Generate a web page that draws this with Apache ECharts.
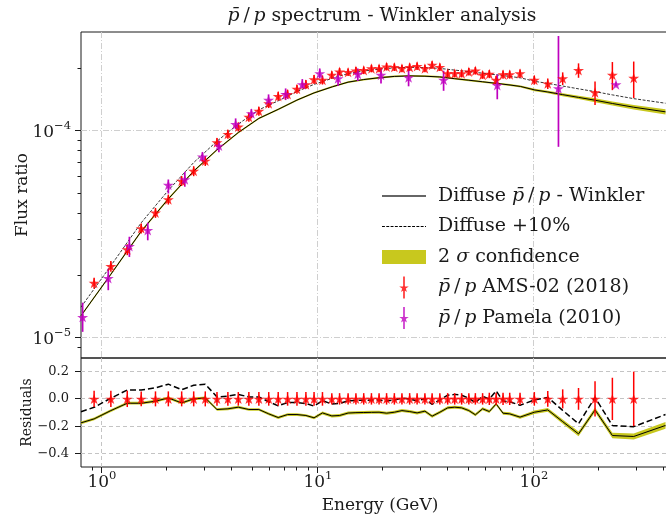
<!DOCTYPE html>
<html><head><meta charset="utf-8">
<script src="https://cdn.jsdelivr.net/npm/echarts@6/dist/echarts.min.js"></script>
<style>html,body{margin:0;padding:0;background:#fff}#c{width:666px;height:521px}</style>
</head><body><div id="c"></div>
<script>
// ---------- data ----------
// AMS-02 (2018) pbar/p points
const amsE = [0.92,1.10,1.31,1.52,1.77,2.03,2.34,2.66,3.01,3.41,3.83,4.28,4.79,5.33,5.92,6.55,7.24,8.0,8.8,9.6,10.5,11.6,12.6,13.8,15.0,16.3,17.7,19.2,20.8,22.6,24.5,26.6,28.8,31.3,33.8,36.7,39.9,43.0,46.3,50.0,53.6,57.9,62.2,66.9,72.0,77.3,86.3,100.5,116,136,161,192,231,290];
const amsFlux = [1.84e-5,2.22e-5,2.67e-5,3.38e-5,4.02e-5,4.66e-5,5.73e-5,6.39e-5,7.16e-5,8.79e-5,9.64e-5,1.045e-4,1.165e-4,1.245e-4,1.356e-4,1.47e-4,1.503e-4,1.59e-4,1.675e-4,1.77e-4,1.76e-4,1.86e-4,1.93e-4,1.92e-4,1.95e-4,1.96e-4,2.0e-4,2.0e-4,2.04e-4,2.03e-4,2.0e-4,2.03e-4,2.05e-4,2.0e-4,2.08e-4,2.03e-4,1.89e-4,1.89e-4,1.89e-4,1.93e-4,1.95e-4,1.86e-4,1.88e-4,1.76e-4,1.87e-4,1.87e-4,1.89e-4,1.76e-4,1.69e-4,1.79e-4,1.96e-4,1.53e-4,1.86e-4,1.80e-4];
// relative uncertainty (as drawn in the residual panel)
const amsRelErr = [0.06,0.06,0.06,0.055,0.055,0.055,0.055,0.055,0.055,0.05,0.05,0.05,0.05,0.05,0.05,0.05,0.05,0.05,0.05,0.05,0.05,0.042,0.042,0.042,0.042,0.042,0.042,0.042,0.042,0.042,0.042,0.042,0.042,0.042,0.042,0.042,0.042,0.042,0.042,0.042,0.042,0.042,0.045,0.045,0.045,0.045,0.045,0.05,0.058,0.07,0.08,0.13,0.155,0.20];

// Pamela (2010) pbar/p points
const pamE = [0.814,1.07,1.34,1.63,2.03,2.42,2.92,3.48,4.16,4.92,5.91,7.09,8.47,10.2,12.4,15.3,19.6,26.3,38.2,67.7,130,240];
const pamFlux = [1.26e-5,1.94e-5,2.77e-5,3.31e-5,5.47e-5,5.82e-5,7.49e-5,8.46e-5,1.077e-4,1.213e-4,1.41e-4,1.50e-4,1.675e-4,1.89e-4,1.79e-4,1.88e-4,1.86e-4,1.81e-4,1.76e-4,1.66e-4,1.60e-4,1.675e-4];
const pamLow = [1.07e-5,1.70e-5,2.46e-5,2.96e-5,4.98e-5,5.37e-5,7.08e-5,7.89e-5,1.019e-4,1.148e-4,1.32e-4,1.407e-4,1.602e-4,1.79e-4,1.65e-4,1.74e-4,1.69e-4,1.64e-4,1.56e-4,1.42e-4,0.837e-4,1.64e-4];
const pamHigh = [1.48e-5,2.16e-5,3.08e-5,3.60e-5,5.82e-5,6.34e-5,7.89e-5,8.97e-5,1.148e-4,1.273e-4,1.499e-4,1.602e-4,1.777e-4,2.0e-4,1.93e-4,2.0e-4,2.0e-4,2.0e-4,1.95e-4,1.87e-4,2.87e-4,1.71e-4];

// Diffuse model (Winkler), +10% curve and 2 sigma band half-width (relative)
const modelE = [0.8,1.1,1.52,2.03,2.66,3.41,4.28,5.33,6.55,8.0,9.6,11.7,13.8,16.3,19.2,22.6,26.6,31.3,36.7,43.0,50.0,57.9,66.9,77.6,86.9,101,116,136,161,192,231,290,407];
const modelFlux = [1.28e-5,2.03e-5,3.27e-5,4.69e-5,6.39e-5,8.10e-5,9.81e-5,1.148e-4,1.269e-4,1.407e-4,1.524e-4,1.633e-4,1.718e-4,1.768e-4,1.804e-4,1.831e-4,1.841e-4,1.835e-4,1.82e-4,1.785e-4,1.755e-4,1.725e-4,1.695e-4,1.664e-4,1.637e-4,1.575e-4,1.54e-4,1.495e-4,1.45e-4,1.405e-4,1.355e-4,1.30e-4,1.235e-4];
const modelPlus10 = [1.408e-5,2.233e-5,3.597e-5,5.159e-5,7.029e-5,8.91e-5,1.079e-4,1.263e-4,1.396e-4,1.548e-4,1.676e-4,1.796e-4,1.890e-4,1.945e-4,1.984e-4,2.014e-4,2.025e-4,2.019e-4,2.002e-4,1.964e-4,1.931e-4,1.898e-4,1.865e-4,1.830e-4,1.801e-4,1.733e-4,1.694e-4,1.645e-4,1.595e-4,1.546e-4,1.491e-4,1.430e-4,1.359e-4];
const modelBandRel = [0.012,0.012,0.012,0.012,0.01,0.01,0.01,0.01,0.01,0.01,0.01,0.01,0.01,0.01,0.01,0.01,0.01,0.01,0.01,0.01,0.01,0.01,0.01,0.01,0.01,0.014,0.015,0.017,0.019,0.021,0.023,0.025,0.028];

// Residual panel
const resE = [0.8,0.92,1.10,1.31,1.52,1.77,2.03,2.34,2.66,3.01,3.41,3.83,4.28,4.79,5.33,5.92,6.55,7.24,8.0,8.8,9.6,10.5,11.6,12.6,13.8,15.0,16.3,17.7,19.2,20.8,22.6,24.5,26.6,28.8,31.3,33.8,36.7,39.9,43.0,46.3,50.0,53.6,57.9,62.2,66.9,72.0,77.3,86.3,100.5,116,136,161,192,231,290,407];
const resModel = [-0.176,-0.147,-0.086,-0.032,-0.032,-0.017,0.007,-0.030,0.0,0.007,-0.078,-0.073,-0.061,-0.078,-0.078,-0.110,-0.137,-0.115,-0.115,-0.122,-0.139,-0.103,-0.125,-0.122,-0.104,-0.101,-0.100,-0.099,-0.098,-0.105,-0.098,-0.086,-0.093,-0.103,-0.090,-0.127,-0.098,-0.066,-0.061,-0.066,-0.086,-0.117,-0.073,-0.093,-0.037,-0.105,-0.110,-0.134,-0.098,-0.081,-0.167,-0.257,-0.081,-0.269,-0.276,-0.195];
const resPlus10 = [-0.094,-0.062,0.005,0.065,0.065,0.081,0.108,0.067,0.100,0.108,0.014,0.020,0.033,0.014,0.014,-0.021,-0.051,-0.027,-0.027,-0.034,-0.053,-0.013,-0.038,-0.034,-0.014,-0.011,-0.010,-0.009,-0.008,-0.016,-0.008,0.005,-0.002,-0.013,0.001,-0.040,-0.008,0.027,0.033,0.027,0.005,-0.029,0.020,-0.002,0.059,-0.016,-0.021,-0.047,-0.008,0.011,-0.084,-0.183,0.011,-0.196,-0.204,-0.115];
const resBand = [0.010,0.010,0.010,0.010,0.010,0.010,0.010,0.010,0.010,0.010,0.010,0.010,0.010,0.010,0.010,0.010,0.010,0.010,0.010,0.010,0.010,0.011,0.011,0.011,0.011,0.011,0.011,0.011,0.011,0.011,0.011,0.011,0.011,0.011,0.011,0.011,0.011,0.011,0.011,0.011,0.011,0.011,0.011,0.011,0.011,0.011,0.011,0.011,0.013,0.014,0.015,0.017,0.018,0.020,0.022,0.025];

// Tick positions
const xMajorTicks = [1, 10, 100];
const xMinorTicks = [0.9,2,3,4,5,6,7,8,9,20,30,40,50,60,70,80,90,200,300,400];
const yTopMajorTicks = [1e-5, 1e-4];
const yTopMinorTicks = [9e-6,2e-5,3e-5,4e-5,5e-5,6e-5,7e-5,8e-5,9e-5,2e-4];
const yResTicks = [-0.4,-0.2,0.0,0.2];

// ---------- style ----------
const FONT = '"DejaVu Serif","Liberation Serif",serif';
const RED = '#ff0000', MAG = '#bf00bf', BAND = '#c8c81e', INK = '#1a1a1a';
const GRID_TOP = '#cfcfcf', GRID_RES = '#c4c4c4';
const STAR = 'path://M10 0L12.245 6.91L19.511 6.91L13.633 11.18L15.878 18.09L10 13.82L4.122 18.09L6.367 11.18L0.489 6.91L7.755 6.91Z';
const STAR_BAR = 'path://M8.3 0H11.7V44H8.3Z M10 13L12.245 19.91L19.511 19.91L13.633 24.18L15.878 31.09L10 26.82L4.122 31.09L6.367 24.18L0.489 19.91L7.755 19.91Z';
const RECT = 'path://M0 0H44V14H0Z';
const SOLID_ICON = 'path://M0 0H44V1.4H0Z';
let dashPath = '';
for (let x = 0; x < 44; x += 4.3) dashPath += 'M' + x.toFixed(2) + ' 0H' + Math.min(x + 2.9, 44).toFixed(2) + 'V0.9H' + x.toFixed(2) + 'Z';
const DASH_ICON = 'path://' + dashPath;

const chart = echarts.init(document.getElementById('c'), null, {renderer: 'canvas'});

function zip2(a, b) { return a.map((v, i) => [v, b[i]]); }
const crisp = v => Math.round(v - 0.5) + 0.5;

function errRender(color, lw) {
  return function (params, api) {
    const p1 = api.coord([api.value(0), api.value(1)]);
    const p2 = api.coord([api.value(0), api.value(2)]);
    return {type: 'line', shape: {x1: p1[0], y1: p1[1], x2: p2[0], y2: p2[1]},
            style: {stroke: color, lineWidth: lw}};
  };
}
function bandRender(pts) {
  return function (params, api) {
    if (params.dataIndex !== 0) return null;
    const up = pts.map(p => api.coord([p[0], p[2]]));
    const dn = pts.slice().reverse().map(p => api.coord([p[0], p[1]]));
    return {type: 'polygon', shape: {points: up.concat(dn)}, style: {fill: BAND}};
  };
}
function xTickRender(len) {
  return function (params, api) {
    const x = crisp(api.coord([api.value(0), api.value(1)])[0]);
    const cs = params.coordSys; const y = cs.y + cs.height;
    return {type: 'line', shape: {x1: x, y1: y, x2: x, y2: y + len}, style: {stroke: INK, lineWidth: 1}};
  };
}
function yTickRender(len) {
  return function (params, api) {
    const y = crisp(api.coord([api.value(0), api.value(1)])[1]);
    const cs = params.coordSys; const x = cs.x;
    return {type: 'line', shape: {x1: x - len, y1: y, x2: x, y2: y}, style: {stroke: INK, lineWidth: 1}};
  };
}
function vGridRender(color, dash) {
  return function (params, api) {
    const x = crisp(api.coord([api.value(0), api.value(1)])[0]);
    const cs = params.coordSys;
    return {type: 'line', shape: {x1: x, y1: cs.y, x2: x, y2: cs.y + cs.height},
            style: {stroke: color, lineWidth: 1, lineDash: dash}};
  };
}
function hGridRender(color, dash) {
  return function (params, api) {
    const y = crisp(api.coord([api.value(0), api.value(1)])[1]);
    const cs = params.coordSys;
    return {type: 'line', shape: {x1: cs.x, y1: y, x2: cs.x + cs.width, y2: y},
            style: {stroke: color, lineWidth: 1, lineDash: dash}};
  };
}

const topBand = modelE.map((e, i) => [e, modelFlux[i] * (1 - modelBandRel[i]), modelFlux[i] * (1 + modelBandRel[i])]);
const resBandPts = resE.map((e, i) => [e, resModel[i] - resBand[i], resModel[i] + resBand[i]]);
const amsBars = amsE.map((e, i) => [e, amsFlux[i] * (1 - amsRelErr[i]), amsFlux[i] * (1 + amsRelErr[i])]);
const pamBars = pamE.map((e, i) => [e, pamLow[i], pamHigh[i]]);
const resBars = amsE.map((e, i) => [e, -amsRelErr[i], amsRelErr[i]]);

const supRich = {
  b: {fontFamily: FONT, fontSize: 17, color: INK, verticalAlign: 'bottom', lineHeight: 21},
  s: {fontFamily: FONT, fontSize: 11.5, color: INK, verticalAlign: 'top', lineHeight: 12}
};
function powLabel(v) {
  const e = Math.round(Math.log10(v));
  return '{b|10}{s|' + (e < 0 ? '\u2212' + (-e) : e) + '}';
}
const PP = '{i|p\u0304}\u2009/\u2009{i|p}';
const legendNames = {
  model: 'Diffuse ' + PP + ' - Winkler',
  plus10: 'Diffuse +10%',
  band: '2 {i|\u03c3} confidence',
  ams: PP + ' AMS-02 (2018)',
  pamela: PP + ' Pamela (2010)'
};
const LEG_FS = 19;
const TITLE_FS = 18.8;

const option = {
  animation: false,
  backgroundColor: '#fff',
  title: {
    text: PP + ' spectrum - Winkler analysis', left: 377, top: 2, textAlign: 'center',
    textStyle: {fontFamily: FONT, fontSize: TITLE_FS, fontWeight: 'normal', color: INK,
      rich: {i: {fontFamily: FONT, fontSize: TITLE_FS, fontStyle: 'italic', color: INK}}}
  },
  legend: {
    orient: 'vertical', left: 377, top: 180, itemWidth: 44, itemHeight: 22, itemGap: 8.5,
    selectedMode: false,
    textStyle: {fontFamily: FONT, fontSize: LEG_FS, lineHeight: 22, color: INK, padding: [0, 0, 0, 7],
      rich: {i: {fontFamily: FONT, fontSize: LEG_FS, lineHeight: 22, fontStyle: 'italic', color: INK}}},
    formatter: n => legendNames[n],
    data: [
      {name: 'model', icon: SOLID_ICON, itemStyle: {color: '#333', borderWidth: 0}},
      {name: 'plus10', icon: DASH_ICON, itemStyle: {color: '#000', borderWidth: 0}},
      {name: 'band', icon: RECT, itemStyle: {color: BAND, borderWidth: 0}},
      {name: 'ams', icon: STAR_BAR, itemStyle: {color: RED, borderWidth: 0}},
      {name: 'pamela', icon: STAR_BAR, itemStyle: {color: MAG, borderWidth: 0}}
    ]
  },
  grid: [
    {left: 81, right: -13, top: 32, height: 326, outerBoundsMode: 'none', containLabel: false,
     show: true, borderColor: INK, borderWidth: 1, backgroundColor: 'transparent'},
    {left: 81, right: -13, top: 358, height: 109, outerBoundsMode: 'none', containLabel: false,
     show: true, borderColor: INK, borderWidth: 1, backgroundColor: 'transparent'}
  ],
  xAxis: [
    {type: 'log', logBase: 10, gridIndex: 0, min: 0.8, max: 470,
     axisLine: {show: false}, axisTick: {show: false}, axisLabel: {show: false}, splitLine: {show: false}},
    {type: 'log', logBase: 10, gridIndex: 1, min: 0.8, max: 470,
     axisLine: {show: false}, axisTick: {show: false}, splitLine: {show: false},
     axisLabel: {formatter: powLabel, rich: supRich, margin: 3, showMinLabel: false, showMaxLabel: false},
     name: 'Energy (GeV)', nameLocation: 'middle', nameGap: 30, nameMoveOverlap: false,
     nameTextStyle: {fontFamily: FONT, fontSize: 17, color: INK}}
  ],
  yAxis: [
    {type: 'log', logBase: 10, gridIndex: 0, min: 8e-6, max: 3e-4,
     axisLine: {show: false}, axisTick: {show: false}, splitLine: {show: false},
     axisLabel: {formatter: powLabel, rich: supRich, margin: 10, showMinLabel: false, showMaxLabel: false},
     name: 'Flux ratio', nameLocation: 'middle', nameGap: 50, nameMoveOverlap: false,
     nameTextStyle: {fontFamily: FONT, fontSize: 17, color: INK}},
    {type: 'value', gridIndex: 1, min: -0.5, max: 0.3,
     axisLine: {show: false}, axisTick: {show: false}, splitLine: {show: false},
     axisLabel: {formatter: v => v.toFixed(1).replace('-', '\u2212'), margin: 12,
       showMinLabel: false, showMaxLabel: false, fontFamily: FONT, fontSize: 13, color: INK},
     name: 'Residuals', nameLocation: 'middle', nameGap: 47, nameMoveOverlap: false,
     nameTextStyle: {fontFamily: FONT, fontSize: 14, color: INK}}
  ],
  series: [
    // ---- grid lines ----
    {name: 'gTopV', type: 'custom', xAxisIndex: 0, yAxisIndex: 0, z: 0, silent: true,
     renderItem: vGridRender(GRID_TOP, [6, 2, 1, 2]), data: xMajorTicks.map(v => [v, 1e-4])},
    {name: 'gTopH', type: 'custom', xAxisIndex: 0, yAxisIndex: 0, z: 0, silent: true,
     renderItem: hGridRender(GRID_TOP, [6, 2, 1, 2]), data: yTopMajorTicks.map(v => [1, v])},
    {name: 'gResV', type: 'custom', xAxisIndex: 1, yAxisIndex: 1, z: 0, silent: true,
     renderItem: vGridRender(GRID_RES, [4, 3]), data: xMajorTicks.map(v => [v, 0])},
    {name: 'gResH', type: 'custom', xAxisIndex: 1, yAxisIndex: 1, z: 0, silent: true,
     renderItem: hGridRender(GRID_RES, [4, 3]), data: yResTicks.map(v => [1, v])},
    // ---- top panel ----
    {name: 'band', type: 'custom', xAxisIndex: 0, yAxisIndex: 0, z: 1, silent: true,
     renderItem: bandRender(topBand), data: topBand, encode: {x: 0, y: [1, 2]}},
    {name: 'model', type: 'line', xAxisIndex: 0, yAxisIndex: 0, z: 2, silent: true,
     symbol: 'none', data: zip2(modelE, modelFlux),
     lineStyle: {color: '#000', width: 1}, itemStyle: {color: '#000'}},
    {name: 'plus10', type: 'line', xAxisIndex: 0, yAxisIndex: 0, z: 3, silent: true,
     symbol: 'none', data: zip2(modelE, modelPlus10),
     lineStyle: {color: '#000', width: 0.8, type: [3, 1.5]}, itemStyle: {color: '#000'}},
    {name: 'amsErr', type: 'custom', xAxisIndex: 0, yAxisIndex: 0, z: 4, silent: true,
     renderItem: errRender(RED, 1.5), data: amsBars, encode: {x: 0, y: [1, 2]}},
    {name: 'pamErr', type: 'custom', xAxisIndex: 0, yAxisIndex: 0, z: 4, silent: true,
     renderItem: errRender(MAG, 1.7), data: pamBars, encode: {x: 0, y: [1, 2]}},
    {name: 'ams', type: 'scatter', xAxisIndex: 0, yAxisIndex: 0, z: 5, silent: true,
     symbol: STAR, symbolSize: 11, symbolKeepAspect: true,
     data: zip2(amsE, amsFlux), itemStyle: {color: RED}},
    {name: 'pamela', type: 'scatter', xAxisIndex: 0, yAxisIndex: 0, z: 5, silent: true,
     symbol: STAR, symbolSize: 11, symbolKeepAspect: true,
     data: zip2(pamE, pamFlux), itemStyle: {color: MAG}},
    // ---- residual panel ----
    {name: 'resBand', type: 'custom', xAxisIndex: 1, yAxisIndex: 1, z: 1, silent: true,
     renderItem: bandRender(resBandPts), data: resBandPts, encode: {x: 0, y: [1, 2]}},
    {name: 'resModel', type: 'line', xAxisIndex: 1, yAxisIndex: 1, z: 2, silent: true,
     symbol: 'none', data: zip2(resE, resModel), lineStyle: {color: '#000', width: 1}},
    {name: 'resPlus10', type: 'line', xAxisIndex: 1, yAxisIndex: 1, z: 3, silent: true,
     symbol: 'none', data: zip2(resE, resPlus10), lineStyle: {color: '#000', width: 1.5, type: [6, 3]}},
    {name: 'resErr', type: 'custom', xAxisIndex: 1, yAxisIndex: 1, z: 4, silent: true,
     renderItem: errRender(RED, 1.5), data: resBars, encode: {x: 0, y: [1, 2]}},
    {name: 'resAms', type: 'scatter', xAxisIndex: 1, yAxisIndex: 1, z: 5, silent: true,
     symbol: STAR, symbolSize: 11, symbolKeepAspect: true,
     data: amsE.map(e => [e, 0]), itemStyle: {color: RED}},
    // ---- ticks ----
    {name: 'xMaj', type: 'custom', xAxisIndex: 1, yAxisIndex: 1, silent: true, z: 6,
     renderItem: xTickRender(6), data: xMajorTicks.map(v => [v, 0])},
    {name: 'xMin', type: 'custom', xAxisIndex: 1, yAxisIndex: 1, silent: true, z: 6,
     renderItem: xTickRender(3.5), data: xMinorTicks.map(v => [v, 0])},
    {name: 'yTopMaj', type: 'custom', xAxisIndex: 0, yAxisIndex: 0, silent: true, z: 6,
     renderItem: yTickRender(6), data: yTopMajorTicks.map(v => [1, v])},
    {name: 'yTopMin', type: 'custom', xAxisIndex: 0, yAxisIndex: 0, silent: true, z: 6,
     renderItem: yTickRender(3.5), data: yTopMinorTicks.map(v => [1, v])},
    {name: 'yResMaj', type: 'custom', xAxisIndex: 1, yAxisIndex: 1, silent: true, z: 6,
     renderItem: yTickRender(6), data: yResTicks.map(v => [1, v])}
  ]
};
chart.setOption(option);
</script>
</body></html>
